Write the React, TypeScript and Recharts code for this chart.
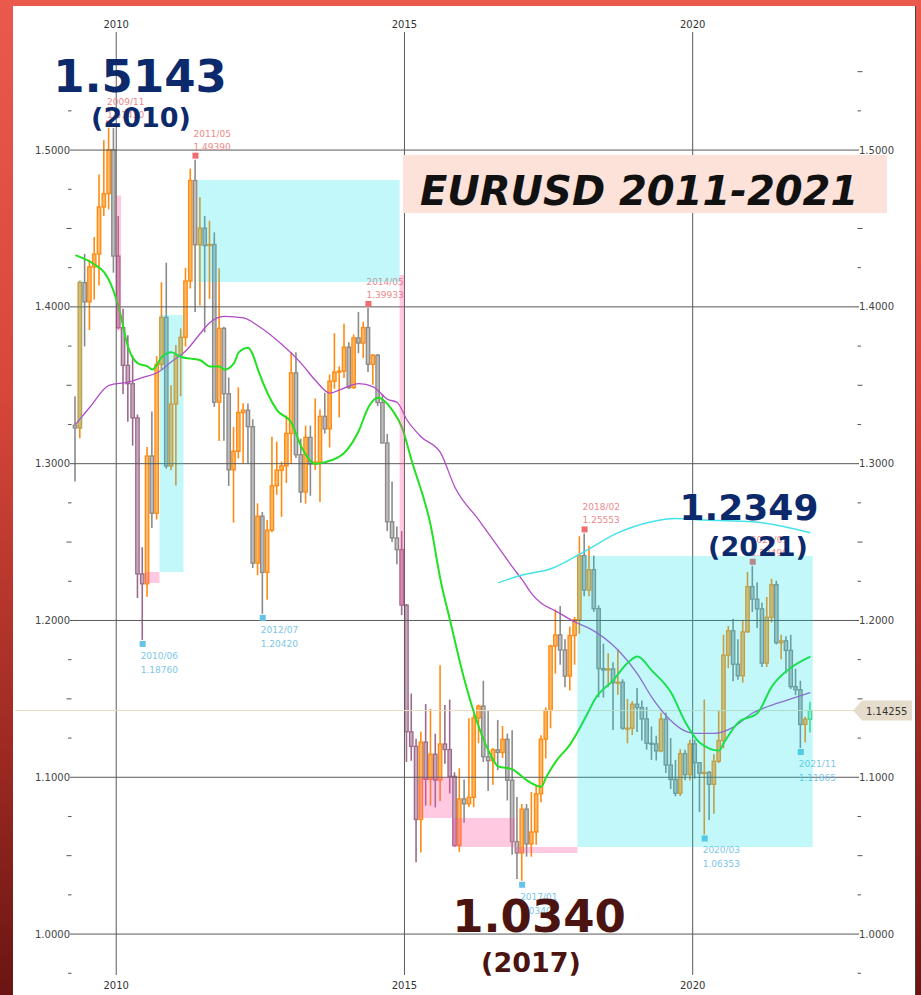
import React from "react";
import {
  ComposedChart,
  Bar,
  Line,
  XAxis,
  YAxis,
  ReferenceLine,
  ReferenceArea,
  ReferenceDot,
} from "recharts";

// monthly candles [open, high, low, close], first one is 2009/04
const y2009 = [
  [1.3245, 1.343, 1.2887, 1.3228], [1.3228, 1.4167, 1.3162, 1.4155], [1.4155, 1.4338, 1.3748, 1.4032],
  [1.4032, 1.4301, 1.3852, 1.4255], [1.4255, 1.4446, 1.4047, 1.4337], [1.4337, 1.4844, 1.4136, 1.4637],
  [1.4637, 1.5063, 1.4579, 1.4722], [1.4722, 1.5143, 1.4622, 1.5003], [1.5003, 1.514, 1.4218, 1.4324],
];
const y2010 = [
  [1.4324, 1.4579, 1.3859, 1.3868], [1.3868, 1.3988, 1.3444, 1.3627], [1.3627, 1.3819, 1.3268, 1.351],
  [1.351, 1.3691, 1.3115, 1.3292], [1.3292, 1.3314, 1.2143, 1.2297], [1.2297, 1.2467, 1.1876, 1.2234],
  [1.2234, 1.3107, 1.2152, 1.3049], [1.3049, 1.3333, 1.2589, 1.2684], [1.2684, 1.3686, 1.2644, 1.3633],
  [1.3633, 1.4157, 1.3601, 1.3933], [1.3933, 1.4282, 1.2968, 1.2985], [1.2985, 1.35, 1.2958, 1.338],
];
const y2011 = [
  [1.338, 1.3757, 1.286, 1.3692], [1.3692, 1.3862, 1.343, 1.3806], [1.3806, 1.4249, 1.3747, 1.4165],
  [1.4165, 1.4882, 1.4117, 1.4806], [1.4806, 1.4939, 1.3968, 1.4396], [1.4396, 1.4699, 1.4009, 1.4502],
  [1.4502, 1.4579, 1.3837, 1.4391], [1.4391, 1.4549, 1.4051, 1.4398], [1.4398, 1.4475, 1.3362, 1.3392],
  [1.3392, 1.4247, 1.3145, 1.3863], [1.3863, 1.3873, 1.3146, 1.3446], [1.3446, 1.355, 1.2858, 1.2961],
];
const y2012 = [
  [1.2961, 1.3234, 1.2624, 1.3079], [1.3079, 1.3487, 1.3034, 1.3326], [1.3326, 1.3386, 1.3004, 1.3341],
  [1.3341, 1.3384, 1.3003, 1.3236], [1.3236, 1.3283, 1.2335, 1.2366], [1.2366, 1.2747, 1.2288, 1.2665],
  [1.2665, 1.2692, 1.2042, 1.2307], [1.2307, 1.264, 1.2132, 1.2576], [1.2576, 1.3172, 1.2562, 1.2859],
  [1.2859, 1.3141, 1.2802, 1.2958], [1.2958, 1.3013, 1.2661, 1.2986], [1.2986, 1.3308, 1.2877, 1.3193],
];
const y2013 = [
  [1.3193, 1.3711, 1.2998, 1.3579], [1.3579, 1.3711, 1.3036, 1.3057], [1.3057, 1.316, 1.275, 1.2819],
  [1.2819, 1.3243, 1.2745, 1.3168], [1.3168, 1.3243, 1.2795, 1.2998], [1.2998, 1.3416, 1.296, 1.301],
  [1.301, 1.3346, 1.2755, 1.3302], [1.3302, 1.3452, 1.3192, 1.3222], [1.3222, 1.3569, 1.3103, 1.3526],
  [1.3526, 1.3832, 1.3478, 1.3584], [1.3584, 1.3621, 1.3295, 1.359], [1.359, 1.3893, 1.3546, 1.3743],
];
const y2014 = [
  [1.3743, 1.3775, 1.3477, 1.3485], [1.3485, 1.3824, 1.3477, 1.3802], [1.3802, 1.3967, 1.3705, 1.3769],
  [1.3769, 1.3905, 1.3673, 1.3868], [1.3868, 1.39933, 1.3585, 1.3634], [1.3634, 1.37, 1.3503, 1.3692],
  [1.3692, 1.37, 1.3367, 1.339], [1.339, 1.3444, 1.313, 1.3132], [1.3132, 1.319, 1.257, 1.263],
  [1.263, 1.2887, 1.25, 1.2526], [1.2526, 1.26, 1.2358, 1.2452], [1.2452, 1.257, 1.2035, 1.2098],
];
const y2015 = [
  [1.2098, 1.2105, 1.1098, 1.129], [1.129, 1.1534, 1.1105, 1.1197], [1.1197, 1.1245, 1.0458, 1.0731],
  [1.0731, 1.129, 1.052, 1.1224], [1.1224, 1.1467, 1.0819, 1.0987], [1.0987, 1.1436, 1.0819, 1.1147],
  [1.1147, 1.1278, 1.0808, 1.0982], [1.0982, 1.1714, 1.0848, 1.1212], [1.1212, 1.1461, 1.1086, 1.1177],
  [1.1177, 1.1495, 1.0897, 1.1006], [1.1006, 1.1032, 1.0557, 1.0565], [1.0565, 1.1058, 1.0524, 1.0862],
];
const y2016 = [
  [1.0862, 1.0986, 1.071, 1.0831], [1.0831, 1.1376, 1.081, 1.0872], [1.0872, 1.1402, 1.0809, 1.1378],
  [1.1378, 1.1464, 1.1217, 1.1454], [1.1454, 1.1616, 1.1097, 1.1131], [1.1131, 1.1428, 1.0912, 1.1106],
  [1.1106, 1.1186, 1.0952, 1.1175], [1.1175, 1.1366, 1.1046, 1.1158], [1.1158, 1.1327, 1.1123, 1.1242],
  [1.1242, 1.1278, 1.0852, 1.0981], [1.0981, 1.13, 1.0506, 1.059], [1.059, 1.0874, 1.0352, 1.0517],
];
const y2017 = [
  [1.0517, 1.083, 1.034, 1.0797], [1.0797, 1.0829, 1.0494, 1.0575], [1.0575, 1.0906, 1.0493, 1.0651],
  [1.0651, 1.095, 1.057, 1.0895], [1.0895, 1.1268, 1.084, 1.1243], [1.1243, 1.1446, 1.1119, 1.1426],
  [1.1426, 1.1846, 1.1312, 1.1837], [1.1837, 1.207, 1.1662, 1.1908], [1.1908, 1.2092, 1.1717, 1.1812],
  [1.1812, 1.188, 1.1574, 1.1645], [1.1645, 1.1961, 1.1554, 1.1904], [1.1904, 1.2023, 1.1718, 1.2005],
];
const y2018 = [
  [1.2005, 1.2537, 1.1916, 1.2414], [1.2414, 1.25553, 1.2154, 1.2194], [1.2194, 1.2476, 1.2155, 1.2324],
  [1.2324, 1.2414, 1.2055, 1.2075], [1.2075, 1.2097, 1.151, 1.1693], [1.1693, 1.1852, 1.1508, 1.1684],
  [1.1684, 1.1791, 1.1575, 1.1691], [1.1691, 1.1734, 1.1301, 1.1603], [1.1603, 1.1815, 1.1526, 1.1606],
  [1.1606, 1.1625, 1.1302, 1.1313], [1.1313, 1.15, 1.1216, 1.1313], [1.1313, 1.1486, 1.1269, 1.1466],
];
const y2019 = [
  [1.1466, 1.157, 1.1289, 1.1445], [1.1445, 1.1489, 1.1234, 1.1372], [1.1372, 1.1448, 1.1176, 1.1217],
  [1.1217, 1.1324, 1.1111, 1.1213], [1.1213, 1.1265, 1.1107, 1.1168], [1.1168, 1.1412, 1.116, 1.1371],
  [1.1371, 1.1412, 1.1028, 1.1078], [1.1078, 1.125, 1.0926, 1.0986], [1.0986, 1.111, 1.0879, 1.0898],
  [1.0898, 1.1179, 1.088, 1.1151], [1.1151, 1.1176, 1.0981, 1.1017], [1.1017, 1.124, 1.098, 1.1213],
];
const y2020 = [
  [1.1213, 1.1239, 1.0992, 1.1093], [1.1093, 1.1096, 1.0778, 1.1026], [1.1026, 1.1496, 1.06353, 1.1031],
  [1.1031, 1.104, 1.0727, 1.0955], [1.0955, 1.1147, 1.0767, 1.1102], [1.1102, 1.1422, 1.109, 1.1234],
  [1.1234, 1.1909, 1.1185, 1.1779], [1.1779, 1.1966, 1.1696, 1.1935], [1.1935, 1.2011, 1.1612, 1.1721],
  [1.1721, 1.188, 1.1622, 1.1647], [1.1647, 1.2004, 1.1603, 1.1927], [1.1927, 1.231, 1.1924, 1.2216],
];
const y2021 = [
  [1.2216, 1.2349, 1.2054, 1.2136], [1.2136, 1.2243, 1.1952, 1.2074], [1.2074, 1.2113, 1.1704, 1.1728],
  [1.1728, 1.215, 1.1703, 1.202], [1.202, 1.2266, 1.1986, 1.2228], [1.2228, 1.2254, 1.1847, 1.1858],
  [1.1858, 1.1909, 1.1752, 1.187], [1.187, 1.19, 1.1664, 1.1809], [1.1809, 1.1909, 1.1563, 1.1578],
  [1.1578, 1.1692, 1.1524, 1.1558], [1.1558, 1.1616, 1.11865, 1.1337], [1.1337, 1.1386, 1.1221, 1.137],
];
// forming candle 2022/01
const y2022 = [[1.137, 1.1482, 1.1285, 1.14255]];
const lastPrice = 1.14255;

// moving averages
const fastMa: [string, number][] = [
  ["2009/04", 1.433], ["2009/08", 1.427], ["2009/10", 1.422], ["2009/11", 1.417], ["2010/01", 1.4],
  ["2010/03", 1.374], ["2010/05", 1.364], ["2010/07", 1.362], ["2010/08", 1.36], ["2010/10", 1.368],
  ["2010/12", 1.371], ["2011/02", 1.368], ["2011/04", 1.367], ["2011/06", 1.366], ["2011/08", 1.362],
  ["2011/10", 1.362], ["2011/11", 1.36], ["2012/01", 1.364], ["2012/02", 1.371], ["2012/04", 1.374],
  ["2012/05", 1.369], ["2012/06", 1.36], ["2012/10", 1.334], ["2013/01", 1.326], ["2013/03", 1.311],
  ["2013/06", 1.3], ["2013/08", 1.301], ["2013/12", 1.307], ["2014/03", 1.321], ["2014/05", 1.336],
  ["2014/07", 1.342], ["2014/10", 1.334], ["2014/12", 1.323], ["2015/02", 1.302], ["2015/06", 1.26],
  ["2015/08", 1.226], ["2015/10", 1.2], ["2016/01", 1.162], ["2016/03", 1.141], ["2016/06", 1.117],
  ["2016/08", 1.107], ["2016/11", 1.105], ["2017/02", 1.098], ["2017/05", 1.094], ["2017/06", 1.1],
  ["2017/08", 1.11], ["2017/11", 1.121], ["2018/03", 1.143], ["2018/04", 1.149], ["2018/08", 1.162],
  ["2018/11", 1.173], ["2019/01", 1.177], ["2019/04", 1.168], ["2019/08", 1.154], ["2019/11", 1.135],
  ["2020/02", 1.122], ["2020/06", 1.117], ["2020/07", 1.122], ["2020/10", 1.135], ["2021/02", 1.141],
  ["2021/05", 1.158], ["2021/09", 1.17], ["2022/01", 1.177],
];
const slowMa: [string, number][] = [
  ["2009/04", 1.325], ["2009/07", 1.336], ["2009/11", 1.35], ["2010/03", 1.352], ["2010/06", 1.355],
  ["2010/09", 1.358], ["2010/12", 1.365], ["2011/03", 1.372], ["2011/06", 1.383], ["2011/08", 1.39],
  ["2011/11", 1.394], ["2012/03", 1.393], ["2012/06", 1.388], ["2012/11", 1.376], ["2013/03", 1.364],
  ["2013/06", 1.353], ["2013/09", 1.345], ["2013/11", 1.347], ["2014/03", 1.351], ["2014/06", 1.349],
  ["2014/09", 1.341], ["2014/11", 1.339], ["2015/01", 1.328], ["2015/04", 1.317], ["2015/08", 1.307],
  ["2015/11", 1.285], ["2016/04", 1.264], ["2016/08", 1.247], ["2016/11", 1.234], ["2017/01", 1.226],
  ["2017/03", 1.217], ["2017/05", 1.211], ["2017/08", 1.206], ["2017/12", 1.199], ["2018/03", 1.195],
  ["2018/09", 1.181], ["2019/01", 1.166], ["2019/04", 1.151], ["2019/08", 1.136], ["2019/10", 1.131],
  ["2020/01", 1.128], ["2020/05", 1.128], ["2020/09", 1.132], ["2021/01", 1.141], ["2021/05", 1.146],
  ["2021/08", 1.149], ["2022/01", 1.154],
];
const longMa: [string, number][] = [
  ["2016/08", 1.224], ["2017/01", 1.229], ["2017/07", 1.233], ["2018/02", 1.244], ["2018/09", 1.256],
  ["2019/04", 1.263], ["2019/09", 1.265], ["2020/03", 1.264], ["2021/01", 1.263], ["2022/01", 1.256],
];

const highMonths = ["2009/11", "2011/05", "2014/05", "2018/02", "2021/01"];
const lowMonths = ["2010/06", "2012/07", "2017/01", "2020/03", "2021/11"];
const mauveRanges = [["2010/01", "2010/06"], ["2014/12", "2015/11"]];

const cyanZones: [string, string, number, number][] = [
  ["2009/05", "2009/05", 1.322, 1.417],
  ["2010/10", "2011/02", 1.2309, 1.3948],
  ["2011/06", "2014/11", 1.4158, 1.4809],
  ["2018/01", "2022/01", 1.0555, 1.2411],
];
const pinkZones: [string, string, number, number][] = [
  ["2010/01", "2010/01", 1.385, 1.471],
  ["2010/07", "2010/09", 1.2239, 1.2309],
  ["2014/12", "2014/12", 1.2098, 1.4203],
  ["2015/04", "2015/10", 1.074, 1.1],
  ["2015/11", "2016/11", 1.0555, 1.074],
  ["2016/12", "2017/12", 1.0517, 1.0555],
];

const yearLines = [["2010/01", "2010"], ["2015/01", "2015"], ["2020/01", "2020"]];
const majorTicks = [1.0, 1.1, 1.2, 1.3, 1.4, 1.5];
const minorTicks = [
  0.975, 1.025, 1.05, 1.075, 1.125, 1.15, 1.175, 1.225, 1.25, 1.275,
  1.325, 1.35, 1.375, 1.425, 1.45, 1.475, 1.525, 1.55,
];

const months: string[] = [];
for (let i = 0; i < 163; i++) {
  const t = 3 + i;
  months.push(`${2009 + Math.floor(t / 12)}/${String((t % 12) + 1).padStart(2, "0")}`);
}
const candles = [...y2009, ...y2010, ...y2011, ...y2012, ...y2013, ...y2014, ...y2015, ...y2016,
  ...y2017, ...y2018, ...y2019, ...y2020, ...y2021, ...y2022];
const currentMonth = months[candles.length - 1];
const fastMap = Object.fromEntries(fastMa);
const slowMap = Object.fromEntries(slowMa);
const longMap = Object.fromEntries(longMa);

const rows = months.map((m, i) => {
  const c = candles[i];
  return {
    m,
    o: c ? c[0] : null,
    h: c ? c[1] : null,
    l: c ? c[2] : null,
    c: c ? c[3] : null,
    range: c ? [c[2], c[1]] : null,
    fast: fastMap[m] ?? null,
    slow: slowMap[m] ?? null,
    long: longMap[m] ?? null,
  };
});
const byMonth: Record<string, any> = Object.fromEntries(rows.map((r) => [r.m, r]));
const isMauve = (m: string) => mauveRanges.some(([a, b]) => m >= a && m <= b);
const allTicks = [...minorTicks, ...majorTicks].sort((a, b) => a - b);

const FONT = "DejaVu Sans, sans-serif";

function Candle(props: any) {
  const { x, y, width, height, payload } = props;
  if (!payload || payload.o == null) return null;
  const { o, h, l, c, m } = payload;
  const top = Math.min(y, y + height);
  const bot = Math.max(y, y + height);
  const k = h === l ? 0 : (bot - top) / (h - l);
  const yo = top + (h - o) * k;
  const yc = top + (h - c) * k;
  const cx = x + width / 2;
  let stroke = c >= o ? "#ff8a12" : "#8a8a8a";
  let fill = c >= o ? "#ffb866" : "#bdbdbd";
  if (c < o && isMauve(m)) {
    stroke = "#9c6a8a";
    fill = "#c9a9bf";
  }
  if (m === currentMonth) {
    stroke = "#55d87e";
    fill = "#aeeec2";
  }
  const bt = Math.min(yo, yc);
  const bh = Math.max(Math.abs(yo - yc), 1);
  return (
    <g>
      <line x1={cx} x2={cx} y1={top} y2={bot} stroke={stroke} strokeWidth={1.6} />
      <rect x={cx - 1.7} y={bt} width={3.4} height={bh} fill={fill} stroke={stroke} strokeWidth={1.3} />
    </g>
  );
}

const isHalf = (v: number) => Math.abs(v * 20 - Math.round(v * 20)) < 1e-6;

function LeftTick({ x, y, payload }: any) {
  const v = payload.value;
  if (majorTicks.includes(v)) {
    return (
      <g>
        <line x1={x - 3} x2={x} y1={y} y2={y} stroke="#555" />
        <text x={x - 3} y={y + 3.5} textAnchor="end" fontSize={10} fill="#444" fontFamily={FONT}>
          {v.toFixed(4)}
        </text>
      </g>
    );
  }
  const len = isHalf(v) ? 5 : 3.5;
  return <line x1={x - 1.5 - len} x2={x - 1.5} y1={y} y2={y} stroke="#555" />;
}

function RightTick({ x, y, payload }: any) {
  const v = payload.value;
  if (majorTicks.includes(v)) {
    return (
      <g>
        <line x1={x} x2={x + 3} y1={y} y2={y} stroke="#555" />
        <text x={x + 3} y={y + 3.5} textAnchor="start" fontSize={10} fill="#444" fontFamily={FONT}>
          {v.toFixed(4)}
        </text>
      </g>
    );
  }
  const len = isHalf(v) ? 5 : 3.5;
  return <line x1={x + 1.5} x2={x + 1.5 + len} y1={y} y2={y} stroke="#555" />;
}

function YearLine(label: string) {
  return (p: any) => {
    const top = Math.min(p.y1, p.y2);
    const bot = Math.max(p.y1, p.y2);
    return (
      <g>
        <line x1={p.x1} x2={p.x2} y1={top} y2={bot} stroke="#5a5a5a" strokeWidth={1} />
        <text x={p.x1} y={top - 4} textAnchor="middle" fontSize={10} fill="#333" fontFamily={FONT}>
          {label}
        </text>
        <text x={p.x1} y={bot + 14} textAnchor="middle" fontSize={10} fill="#333" fontFamily={FONT}>
          {label}
        </text>
      </g>
    );
  };
}

function PriceLine(p: any) {
  const left = Math.min(p.x1, p.x2);
  const right = Math.max(p.x1, p.x2);
  const y = p.y1;
  return (
    <g>
      <line x1={left - 58} x2={right} y1={y} y2={y} stroke="#e6dcc0" strokeWidth={1} />
      <polygon
        points={`${right - 3},${y} ${right + 6},${y - 10} ${right + 56},${y - 10} ${right + 56},${y + 10} ${right + 6},${y + 10}`}
        fill="#e6dccb"
      />
      <text x={right + 10} y={y + 4} fontSize={10} fill="#333" fontFamily={FONT}>
        {lastPrice.toFixed(5)}
      </text>
    </g>
  );
}

function Marker(kind: "high" | "low", m: string, value: number) {
  return (p: any) => {
    const { cx, cy } = p;
    const color = kind === "high" ? "#ee6f6f" : "#66c2e6";
    const text = kind === "high" ? "#ec8a8a" : "#7cc6e8";
    const sq = kind === "high" ? cy - 7 : cy + 1;
    const l1 = kind === "high" ? cy - 23 : cy + 19;
    const l2 = kind === "high" ? cy - 10 : cy + 33;
    return (
      <g>
        <rect x={cx - 3} y={sq} width={6} height={6} fill={color} />
        <text x={cx - 2} y={l1} fontSize={9} fill={text} fontFamily={FONT}>{m}</text>
        <text x={cx - 2} y={l2} fontSize={9} fill={text} fontFamily={FONT}>{value.toFixed(5)}</text>
      </g>
    );
  };
}

function Chart() {
  return (
    <ComposedChart
      width={921}
      height={995}
      data={rows}
      margin={{ top: 32, right: 0, bottom: 20, left: 0 }}
      barCategoryGap={0}
    >
      <XAxis dataKey="m" type="category" hide />
      <YAxis
        yAxisId="L"
        orientation="left"
        width={73}
        domain={[0.9739, 1.5753]}
        type="number"
        ticks={allTicks}
        interval={0}
        tick={<LeftTick />}
        tickLine={false}
        axisLine={false}
        tickSize={0}
        tickMargin={0}
        allowDataOverflow
      />
      <YAxis
        yAxisId="R"
        orientation="right"
        width={65}
        domain={[0.9739, 1.5753]}
        type="number"
        ticks={allTicks}
        interval={0}
        tick={<RightTick />}
        tickLine={false}
        axisLine={false}
        tickSize={0}
        tickMargin={0}
        allowDataOverflow
      />
      {majorTicks.map((v) => (
        <ReferenceLine key={"h" + v} yAxisId="L" y={v} stroke="#5a5a5a" strokeWidth={1} />
      ))}
      {yearLines.map(([m, label]) => (
        <ReferenceLine key={"v" + m} yAxisId="L" x={m} position="start" shape={YearLine(label)} />
      ))}
      <ReferenceLine yAxisId="L" y={lastPrice} shape={PriceLine} />
      <Bar yAxisId="L" dataKey="range" barSize={4} shape={<Candle />} isAnimationActive={false} />
      <Line yAxisId="L" dataKey="slow" type="monotone" stroke="#b24cc6" strokeWidth={1.3} dot={false} connectNulls isAnimationActive={false} />
      <Line yAxisId="L" dataKey="long" type="monotone" stroke="#44e2ea" strokeWidth={1.5} dot={false} connectNulls isAnimationActive={false} />
      <Line yAxisId="L" dataKey="fast" type="monotone" stroke="#22e022" strokeWidth={2} dot={false} connectNulls isAnimationActive={false} />
      {highMonths.map((m) => (
        <ReferenceDot key={"hi" + m} yAxisId="L" x={m} y={byMonth[m].h} r={3} shape={Marker("high", m, byMonth[m].h)} />
      ))}
      {lowMonths.map((m) => (
        <ReferenceDot key={"lo" + m} yAxisId="L" x={m} y={byMonth[m].l} r={3} shape={Marker("low", m, byMonth[m].l)} />
      ))}
      {pinkZones.map(([a, b, lo, hi]) => (
        <ReferenceArea key={"p" + a} yAxisId="L" x1={a} x2={b} y1={lo} y2={hi} fill="#ff50a0" fillOpacity={0.31} stroke="none" zIndex={2000} />
      ))}
      {cyanZones.map(([a, b, lo, hi]) => (
        <ReferenceArea key={"c" + a} yAxisId="L" x1={a} x2={b} y1={lo} y2={hi} fill="#00e1ea" fillOpacity={0.235} stroke="none" zIndex={2000} />
      ))}
    </ComposedChart>
  );
}

export default function App() {
  const navy = "#0c2a6b";
  const brown = "#4c1410";
  return (
    <div
      style={{
        position: "absolute",
        left: 0,
        top: 0,
        width: 921,
        height: 995,
        overflow: "hidden",
        fontFamily: FONT,
        background: "linear-gradient(180deg, #ea5a4c 0%, #d6463a 40%, #9e2a22 75%, #6a1513 100%)",
      }}
    >
      <div style={{ position: "absolute", left: 13, top: 6, width: 902, height: 989, background: "#fff", borderRight: "1px solid #444" }} />
      <div style={{ position: "absolute", left: 0, top: 0 }}>
        <Chart />
      </div>
      <svg width={921} height={995} style={{ position: "absolute", left: 0, top: 0, pointerEvents: "none" }}>
        <rect x={403} y={155} width={484} height={58} fill="#fde2da" />
        <text x={420} y={205} fontSize={40} fontWeight="bold" fontStyle="italic" fill="#111" fontFamily={FONT}>
          EURUSD 2011-2021
        </text>
        <text x={140} y={92} textAnchor="middle" fontSize={45} fontWeight="bold" fill={navy} fontFamily={FONT}>1.5143</text>
        <text x={141} y={127} textAnchor="middle" fontSize={27} fontWeight="bold" fill={navy} fontFamily={FONT}>(2010)</text>
        <text x={749} y={520} textAnchor="middle" fontSize={36} fontWeight="bold" fill={navy} fontFamily={FONT}>1.2349</text>
        <text x={758} y={556} textAnchor="middle" fontSize={27} fontWeight="bold" fill={navy} fontFamily={FONT}>(2021)</text>
        <text x={539} y={932} textAnchor="middle" fontSize={45} fontWeight="bold" fill={brown} fontFamily={FONT}>1.0340</text>
        <text x={531} y={972} textAnchor="middle" fontSize={27} fontWeight="bold" fill={brown} fontFamily={FONT}>(2017)</text>
      </svg>
    </div>
  );
}
